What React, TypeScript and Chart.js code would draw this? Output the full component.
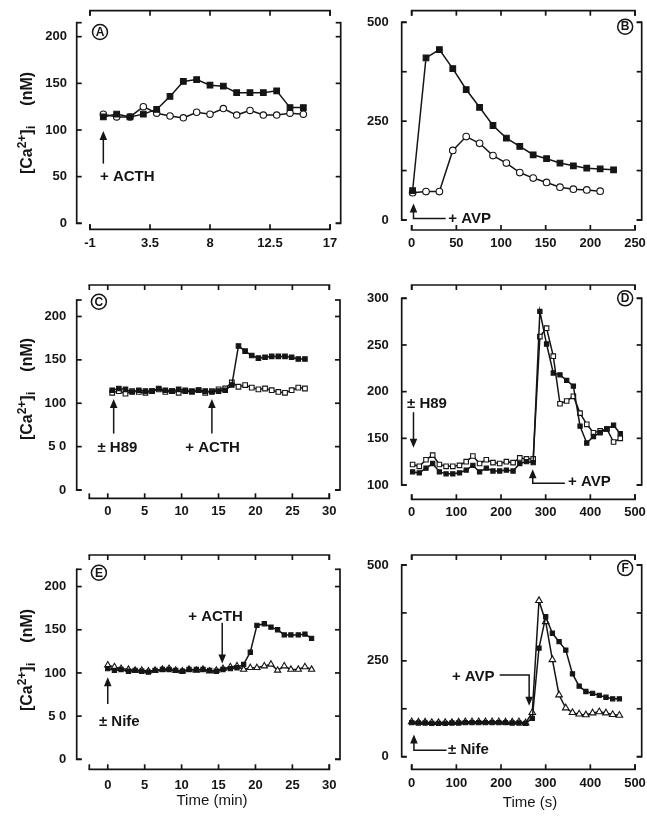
import React, { useEffect, useRef } from "react";
import { Chart, registerables } from "chart.js";

Chart.register(...registerables);

const FONT = "'Liberation Sans', Arial, Helvetica, sans-serif";
const INK = "#151515";

// ---------- Panel A (ACTH, min) ----------
const aTime = [0, 1, 2, 3, 4, 5, 6, 7, 8, 9, 10, 11, 12, 13, 14, 15];
const aActh = [114, 117, 114, 117, 122, 136, 152, 154, 148, 147, 140, 140, 140, 142, 124, 124];
const aControl = [117, 114, 114, 125, 118, 115, 113, 119, 117, 123, 116, 121, 116, 116, 118, 117];
const aXTicks = [-1, 3.5, 8, 12.5, 17];
const aYTicks = [0, 50, 100, 150, 200];

// ---------- Panel B (AVP, s) ----------
const bTimeAvp = [1, 16, 31, 46, 61, 76, 91, 106, 121, 136, 151, 166, 181, 196, 211, 226];
const bAvp = [74, 410, 431, 383, 330, 285, 239, 207, 186, 165, 155, 144, 137, 131, 129, 127];
const bTimeControl = [1, 16, 31, 46, 61, 76, 91, 106, 121, 136, 151, 166, 181, 196, 211];
const bControl = [69, 72, 72, 176, 211, 194, 163, 144, 120, 106, 95, 83, 78, 76, 73];
const bXTicks = [0, 50, 100, 150, 200, 250];
const bYTicks = [0, 250, 500];
const bYMinor = [125, 375];

// ---------- Panel C (± H89, ACTH, min) ----------
const cTime = [0.6, 1.5, 2.4, 3.3, 4.2, 5.1, 6.0, 6.9, 7.8, 8.7, 9.6, 10.5, 11.4, 12.3, 13.2, 14.1, 15.0, 15.9, 16.8, 17.7, 18.6, 19.5, 20.4, 21.3, 22.2, 23.1, 24.0, 24.9, 25.8, 26.7];
const cActh = [115, 117, 116, 113, 115, 114, 114, 117, 115, 114, 116, 115, 114, 115, 114, 113, 114, 115, 121, 166, 160, 155, 152, 153, 154, 154, 154, 153, 151, 151];
const cH89 = [112, 114, 111, 114, 113, 112, 114, 116, 113, 114, 112, 114, 113, 115, 112, 114, 116, 117, 124, 119, 121, 118, 116, 117, 115, 113, 112, 115, 118, 117];
const cXTicks = [0, 5, 10, 15, 20, 25, 30];
const cYTicks = [0, 50, 100, 150, 200];

// ---------- Panel D (± H89, AVP, s) ----------
const dTime = [2, 17, 32, 47, 62, 77, 92, 107, 122, 137, 152, 167, 182, 197, 212, 227, 242, 257, 272, 287, 302, 317, 332, 347, 362, 377, 392, 407, 422, 437, 452, 467];
const dAvp = [114, 113, 118, 123, 114, 112, 112, 113, 116, 121, 114, 118, 115, 115, 116, 115, 123, 125, 124, 286, 251, 220, 218, 212, 206, 163, 145, 152, 156, 160, 164, 155];
const dH89 = [122, 120, 127, 132, 122, 120, 120, 121, 125, 131, 123, 127, 124, 123, 125, 124, 129, 128, 128, 259, 268, 238, 187, 190, 195, 177, 165, 156, 158, 160, 146, 150];
const dXTicks = [0, 100, 200, 300, 400, 500];
const dYTicks = [100, 150, 200, 250, 300];

// ---------- Panel E (± Nife, ACTH, min) ----------
const eTime = [0, 0.9, 1.8, 2.8, 3.7, 4.6, 5.5, 6.4, 7.4, 8.3, 9.2, 10.1, 11, 12, 12.9, 13.8, 14.7, 15.6, 16.6, 17.5, 18.4, 19.3, 20.2, 21.2, 22.1, 23, 23.9, 24.8, 25.8, 26.7, 27.6];
const eActh = [105, 103, 104, 102, 103, 102, 101, 103, 104, 104, 103, 102, 104, 104, 104, 103, 102, 104, 105, 106, 110, 124, 155, 157, 153, 150, 144, 144, 144, 145, 140];
const eNife = [109, 107, 105, 104, 103, 103, 102, 103, 104, 105, 103, 102, 104, 103, 104, 102, 103, 105, 107, 108, 104, 106, 106, 108, 110, 103, 108, 104, 104, 107, 104];
const eXTicks = [0, 5, 10, 15, 20, 25, 30];
const eYTicks = [0, 50, 100, 150, 200];

// ---------- Panel F (± Nife, AVP, s) ----------
const fTime = [0, 15, 30, 45, 60, 75, 90, 105, 120, 135, 150, 165, 180, 195, 210, 225, 240, 255, 270, 285, 300, 315, 330, 345, 360, 375, 390, 405, 420, 435, 450, 465];
const fAvp = [89, 88, 88, 87, 87, 87, 88, 88, 89, 89, 89, 89, 89, 89, 89, 88, 88, 87, 100, 283, 365, 322, 300, 278, 216, 184, 170, 165, 160, 155, 151, 151];
const fNife = [91, 90, 90, 89, 89, 89, 89, 90, 91, 91, 91, 91, 91, 91, 90, 90, 91, 88, 115, 407, 352, 253, 161, 127, 115, 111, 109, 114, 117, 114, 110, 108];
const fXTicks = [0, 100, 200, 300, 400, 500];
const fYTicks = [0, 250, 500];
const fYMinor = [125, 375];

type Kind = "fsq" | "osq" | "ocirc" | "otri";
type Series = { x: number[]; y: number[]; kind: Kind; r: number };
type Note =
  | { t: "text"; x: number; y: number; s: string }
  | { t: "arrow"; pts: number[][] }
  | { t: "circle"; x: number; y: number; s: string };

type Panel = {
  key: string;
  canvas: [number, number, number, number];
  area: [number, number, number, number]; // L, T, R, B (page px)
  xMin: number; xMax: number; yMin: number; yMax: number;
  xTicks: number[]; yTicks: number[]; yMinor?: number[];
  yLabel?: (v: number) => string;
  off: [number, number, number, number]; // left, right, bottom, top
  xPad: number;
  series: Series[];
  notes: Note[];
};

const spaced50 = (v: number) => (v === 50 ? "5 0" : String(v));

const panels: Panel[] = [
  {
    key: "A", canvas: [0, 0, 345, 262], area: [90, 22.7, 330, 223.3],
    xMin: -1, xMax: 17, yMin: 0, yMax: 215, xTicks: aXTicks, yTicks: aYTicks,
    off: [13.3, 10.7, 6, 12], xPad: 12,
    series: [
      { x: aTime, y: aActh, kind: "fsq", r: 4 },
      { x: aTime, y: aControl, kind: "ocirc", r: 3.2 },
    ],
    notes: [
      { t: "arrow", pts: [[0, 64], [0, 99]] },
      { t: "text", x: -0.25, y: 50, s: "+ ACTH" },
      { t: "circle", x: -0.25, y: 205, s: "A" },
    ],
  },
  {
    key: "B", canvas: [345, 0, 302, 262], area: [411.7, 22.3, 635, 220],
    xMin: 0, xMax: 250, yMin: 0, yMax: 500, xTicks: bXTicks, yTicks: bYTicks, yMinor: bYMinor,
    off: [10, 6.7, 10, 11.6], xPad: 16,
    series: [
      { x: bTimeAvp, y: bAvp, kind: "fsq", r: 4 },
      { x: bTimeControl, y: bControl, kind: "ocirc", r: 3.3 },
    ],
    notes: [
      { t: "arrow", pts: [[38, 4], [2, 4], [2, 42]] },
      { t: "text", x: 41, y: 4, s: "+ AVP" },
      { t: "circle", x: 239, y: 489, s: "B" },
    ],
  },
  {
    key: "C", canvas: [0, 262, 345, 273], area: [89.3, 300, 329.3, 490],
    xMin: -2.5, xMax: 30, yMin: 0, yMax: 219, xTicks: cXTicks, yTicks: cYTicks, yLabel: spaced50,
    off: [12.6, 10.7, 8.3, 15], xPad: 14,
    series: [
      { x: cTime, y: cActh, kind: "fsq", r: 3.2 },
      { x: cTime, y: cH89, kind: "osq", r: 3.3 },
    ],
    notes: [
      { t: "arrow", pts: [[0.8, 65], [0.8, 105]] },
      { t: "text", x: -1.4, y: 49, s: "± H89" },
      { t: "arrow", pts: [[14.1, 65], [14.1, 105]] },
      { t: "text", x: 10.5, y: 49, s: "+ ACTH" },
      { t: "circle", x: -1.2, y: 217, s: "C" },
    ],
  },
  {
    key: "D", canvas: [345, 262, 302, 273], area: [411.7, 298.3, 635, 485],
    xMin: 0, xMax: 500, yMin: 100, yMax: 300, xTicks: dXTicks, yTicks: dYTicks,
    off: [10, 6.7, 14.3, 13.3], xPad: 20,
    series: [
      { x: dTime, y: dAvp, kind: "fsq", r: 3 },
      { x: dTime, y: dH89, kind: "osq", r: 3.2 },
    ],
    notes: [
      { t: "text", x: -10.5, y: 187, s: "± H89" },
      { t: "arrow", pts: [[4, 178], [4, 140]] },
      { t: "arrow", pts: [[343, 102], [271, 102], [271, 117]] },
      { t: "text", x: 350, y: 103, s: "+ AVP" },
      { t: "circle", x: 478, y: 300, s: "D" },
    ],
  },
  {
    key: "E", canvas: [0, 535, 345, 282], area: [89.3, 569.3, 329.3, 759.3],
    xMin: -2.5, xMax: 30, yMin: 0, yMax: 220, xTicks: eXTicks, yTicks: eYTicks, yLabel: spaced50,
    off: [12.6, 10.7, 10, 14.3], xPad: 18,
    series: [
      { x: eTime, y: eActh, kind: "fsq", r: 3 },
      { x: eTime, y: eNife, kind: "otri", r: 3.6 },
    ],
    notes: [
      { t: "arrow", pts: [[0, 64], [0, 95]] },
      { t: "text", x: -1.2, y: 43, s: "± Nife" },
      { t: "arrow", pts: [[15.5, 158], [15.5, 111]] },
      { t: "text", x: 10.9, y: 165, s: "+ ACTH" },
      { t: "circle", x: -1.2, y: 216, s: "E" },
    ],
  },
  {
    key: "F", canvas: [345, 535, 302, 282], area: [411.7, 565, 635, 756.7],
    xMin: 0, xMax: 500, yMin: 0, yMax: 500, xTicks: fXTicks, yTicks: fYTicks, yMinor: fYMinor,
    off: [10, 6.7, 12.6, 10], xPad: 19,
    series: [
      { x: fTime, y: fAvp, kind: "fsq", r: 3 },
      { x: fTime, y: fNife, kind: "otri", r: 3.8 },
    ],
    notes: [
      { t: "text", x: 90, y: 207, s: "+ AVP" },
      { t: "arrow", pts: [[197, 213], [263, 213], [263, 133]] },
      { t: "arrow", pts: [[78, 17], [5, 17], [5, 58]] },
      { t: "text", x: 81.5, y: 17, s: "± Nife" },
      { t: "circle", x: 478, y: 492, s: "F" },
    ],
  },
];

function pointOpts(kind: Kind, r: number) {
  const base = { pointRadius: r, pointBorderColor: INK, pointBorderWidth: 1.1, pointHoverRadius: r };
  if (kind === "fsq") return { ...base, pointStyle: "rect", pointBackgroundColor: INK };
  if (kind === "osq") return { ...base, pointStyle: "rect", pointBackgroundColor: "#fff" };
  if (kind === "otri") return { ...base, pointStyle: "triangle", pointBackgroundColor: "#fff" };
  return { ...base, pointStyle: "circle", pointBackgroundColor: "#fff" };
}

function makeDecor(p: Panel) {
  return {
    id: "decor" + p.key,
    afterDraw(chart: any) {
      const ctx = chart.ctx as CanvasRenderingContext2D;
      const xs = chart.scales.x;
      const ys = chart.scales.y;
      const a = chart.chartArea;
      const X = (v: number) => xs.getPixelForValue(v);
      const Y = (v: number) => ys.getPixelForValue(v);
      const seg = (x1: number, y1: number, x2: number, y2: number) => {
        ctx.beginPath();
        ctx.moveTo(x1, y1);
        ctx.lineTo(x2, y2);
        ctx.stroke();
      };
      ctx.save();
      ctx.strokeStyle = INK;
      ctx.fillStyle = INK;
      ctx.lineWidth = 1.7;
      const T = 5;
      const xl = a.left - p.off[0];
      const xr = a.right + p.off[1];
      const yb = a.bottom + p.off[2];
      const yt = a.top - p.off[3];
      const yLo = Y(p.yMin), yHi = Y(p.yMax), xLo = X(p.xMin), xHi = X(p.xMax);
      seg(xl, yLo + 0.85, xl, yHi - 0.85);
      seg(xr, yLo + 0.85, xr, yHi - 0.85);
      [p.yMin, p.yMax, ...p.yTicks, ...(p.yMinor || [])].forEach((v) => {
        const py = Y(v);
        seg(xl, py, xl + T, py);
        seg(xr, py, xr - T, py);
      });
      seg(xLo - 0.85, yb, xHi + 0.85, yb);
      seg(xLo - 0.85, yt, xHi + 0.85, yt);
      [p.xMin, p.xMax, ...p.xTicks].forEach((v) => {
        const px = X(v);
        seg(px, yb, px, yb - T);
        seg(px, yt, px, yt + T);
      });

      // annotations
      ctx.lineWidth = 1.5;
      p.notes.forEach((n) => {
        if (n.t === "text") {
          ctx.font = `bold 15px ${FONT}`;
          ctx.textAlign = "left";
          ctx.textBaseline = "middle";
          ctx.fillText(n.s, X(n.x), Y(n.y));
        } else if (n.t === "circle") {
          const cx = X(n.x), cy = Y(n.y);
          ctx.beginPath();
          ctx.arc(cx, cy, 7.5, 0, Math.PI * 2);
          ctx.stroke();
          ctx.font = `bold 12px ${FONT}`;
          ctx.textAlign = "center";
          ctx.textBaseline = "middle";
          ctx.fillText(n.s, cx, cy + 0.5);
        } else {
          const pts = n.pts.map(([vx, vy]) => [X(vx), Y(vy)]);
          const [tx, ty] = pts[pts.length - 1];
          const [px, py] = pts[pts.length - 2];
          const len = Math.hypot(tx - px, ty - py);
          const ux = (tx - px) / len, uy = (ty - py) / len;
          const hl = 9, hw = 3.8;
          const bx = tx - ux * hl, by = ty - uy * hl;
          ctx.beginPath();
          ctx.moveTo(pts[0][0], pts[0][1]);
          for (let i = 1; i < pts.length - 1; i++) ctx.lineTo(pts[i][0], pts[i][1]);
          ctx.lineTo(bx + ux, by + uy);
          ctx.stroke();
          ctx.beginPath();
          ctx.moveTo(tx, ty);
          ctx.lineTo(bx - uy * hw, by + ux * hw);
          ctx.lineTo(bx + uy * hw, by - ux * hw);
          ctx.closePath();
          ctx.fill();
        }
      });
      ctx.restore();
    },
  };
}

function PanelChart({ p }: { p: Panel }) {
  const ref = useRef<HTMLCanvasElement | null>(null);
  useEffect(() => {
    const canvas = ref.current;
    if (!canvas) return;
    const [cx, cy, cw, ch] = p.canvas;
    const [L, T, R, B] = p.area;
    const W = 60;
    const H = p.xPad + 20;
    const tickFont = { family: FONT, size: 13, weight: "bold" as const };
    const chart = new Chart(canvas, {
      type: "line",
      data: {
        datasets: p.series.map((s) => ({
          data: s.x.map((x, i) => ({ x, y: s.y[i] })),
          borderColor: INK,
          borderWidth: 1.5,
          tension: 0,
          fill: false,
          clip: false as any,
          ...pointOpts(s.kind, s.r),
        })) as any,
      },
      options: {
        responsive: false,
        animation: false,
        events: [],
        layout: {
          padding: { left: L - cx - W, right: cx + cw - R, top: T - cy, bottom: cy + ch - B - H },
        },
        plugins: { legend: { display: false }, tooltip: { enabled: false } },
        scales: {
          x: {
            type: "linear",
            min: p.xMin,
            max: p.xMax,
            afterBuildTicks: (s: any) => {
              s.ticks = p.xTicks.map((v) => ({ value: v }));
            },
            afterFit: (s: any) => {
              s.height = H;
              s.paddingLeft = 0;
              s.paddingRight = 0;
              s.paddingTop = 0;
              s.paddingBottom = 0;
            },
            grid: { display: false, drawTicks: false },
            border: { display: false },
            ticks: {
              autoSkip: false,
              maxRotation: 0,
              minRotation: 0,
              padding: p.xPad,
              color: INK,
              font: tickFont,
              callback: (v: any) => String(v),
            },
          },
          y: {
            type: "linear",
            min: p.yMin,
            max: p.yMax,
            afterBuildTicks: (s: any) => {
              s.ticks = p.yTicks.map((v) => ({ value: v }));
            },
            afterFit: (s: any) => {
              s.width = W;
              s.paddingLeft = 0;
              s.paddingRight = 0;
              s.paddingTop = 0;
              s.paddingBottom = 0;
            },
            grid: { display: false, drawTicks: false },
            border: { display: false },
            ticks: {
              autoSkip: false,
              padding: 23,
              color: INK,
              font: tickFont,
              callback: (v: any) => (p.yLabel ? p.yLabel(Number(v)) : String(v)),
            },
          },
        },
      } as any,
      plugins: [makeDecor(p)],
    });
    return () => chart.destroy();
  }, [p]);
  const [cx, cy, cw, ch] = p.canvas;
  return (
    <canvas
      ref={ref}
      width={cw}
      height={ch}
      style={{ position: "absolute", left: cx, top: cy, width: cw, height: ch }}
    />
  );
}

function YTitle({ cx, cy }: { cx: number; cy: number }) {
  return (
    <div
      style={{
        position: "absolute",
        left: cx,
        top: cy,
        transform: "translate(-50%, -50%) rotate(-90deg)",
        whiteSpace: "nowrap",
        font: `bold 16px ${FONT}`,
        color: INK,
        lineHeight: "18px",
      }}
    >
      [Ca<sup style={{ fontSize: 12, verticalAlign: 6, lineHeight: 0 }}>2+</sup>]
      <sub style={{ fontSize: 13, verticalAlign: -3, lineHeight: 0 }}>i</sub>
      <span style={{ marginLeft: 20 }}>(nM)</span>
    </div>
  );
}

export default function App() {
  return (
    <div
      style={{
        position: "absolute",
        left: 0,
        top: 0,
        width: 647,
        height: 817,
        background: "#fff",
        overflow: "hidden",
      }}
    >
      {panels.map((p) => (
        <PanelChart key={p.key} p={p} />
      ))}
      <YTitle cx={27} cy={123} />
      <YTitle cx={27} cy={389} />
      <YTitle cx={27} cy={660} />
      <div
        style={{
          position: "absolute",
          left: 212,
          top: 799,
          transform: "translate(-50%, -50%)",
          font: `15px ${FONT}`,
          color: INK,
          whiteSpace: "nowrap",
        }}
      >
        Time (min)
      </div>
      <div
        style={{
          position: "absolute",
          left: 530,
          top: 801,
          transform: "translate(-50%, -50%)",
          font: `15px ${FONT}`,
          color: INK,
          whiteSpace: "nowrap",
        }}
      >
        Time (s)
      </div>
    </div>
  );
}
